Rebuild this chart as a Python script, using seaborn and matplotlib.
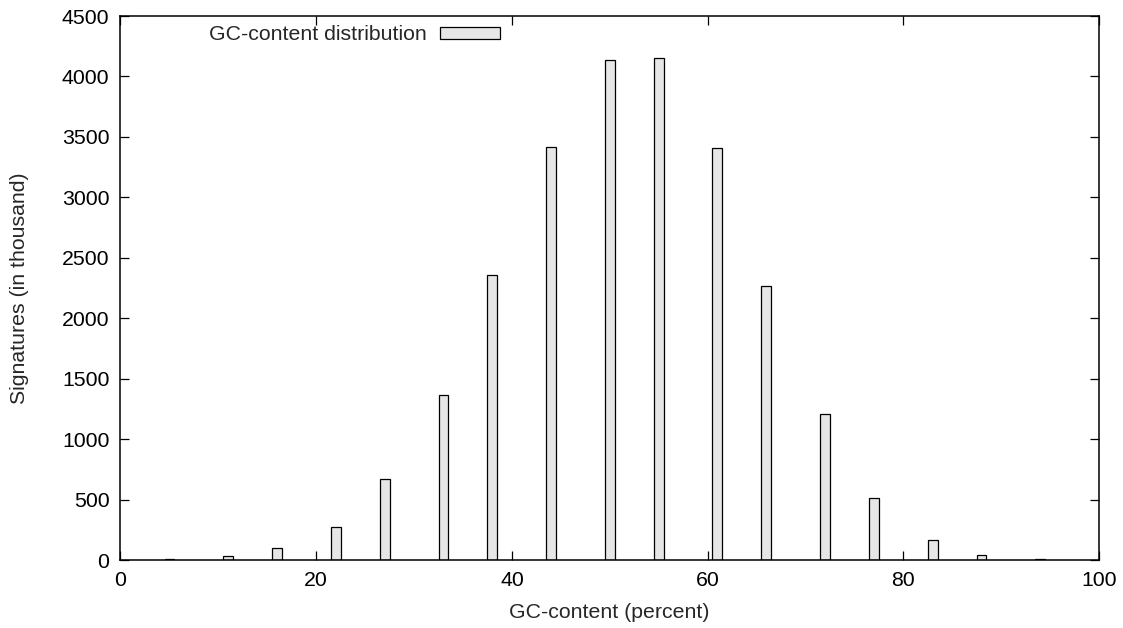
import matplotlib
matplotlib.use("Agg")
import matplotlib.pyplot as plt
import seaborn as sns
import pandas as pd

gc_percent = [5, 11, 16, 22, 27, 33, 38, 44, 50, 55, 61, 66, 72, 77, 83, 88, 94]
signatures = [10, 33, 102, 279, 670, 1369, 2358, 3415, 4139, 4155, 3405, 2267, 1207, 512, 171, 47, 12]
x_ticks = [0, 20, 40, 60, 80, 100]
y_ticks = list(range(0, 4501, 500))

sns.set_style("ticks")
plt.rcParams['font.family'] = ['Liberation Sans', 'DejaVu Sans']
FS = 15.3
plt.rcParams['font.size'] = FS

df = pd.DataFrame({"gc": gc_percent, "sig": signatures})

fig = plt.figure(figsize=(11.23, 6.28), dpi=100)
ax = fig.add_axes([0.1073, 0.1078, 0.9786 - 0.1073, 0.9745 - 0.1078])

sns.barplot(data=df, x="gc", y="sig", native_scale=True, width=0.2,
            color="#e6e6e6", edgecolor="black", linewidth=0.9,
            saturation=1, label="GC-content distribution", ax=ax)

ax.set_xlim(0, 100)
ax.set_ylim(0, 4500)
ax.set_xticks(x_ticks)
ax.set_xticklabels([str(v) for v in x_ticks])
ax.set_yticks(y_ticks)
ax.set_yticklabels([str(v) for v in y_ticks])
ax.tick_params(direction="in", length=6.5, width=0.9, top=True, right=True,
               labelsize=FS, colors="black", pad=8)
for s in ax.spines.values():
    s.set_visible(True)
    s.set_linewidth(1.1)
    s.set_color("black")

ax.set_xlabel("GC-content (percent)", fontsize=FS, labelpad=9)
ax.set_ylabel("Signatures (in thousand)", fontsize=FS, labelpad=24)

ax.legend(loc="upper left", bbox_to_anchor=(0.077, 1.006), frameon=False,
          markerfirst=False, handlelength=2.8, handleheight=0.47,
          handletextpad=0.65, fontsize=FS, borderaxespad=0.2)

fig.savefig("out.png", dpi=100)
